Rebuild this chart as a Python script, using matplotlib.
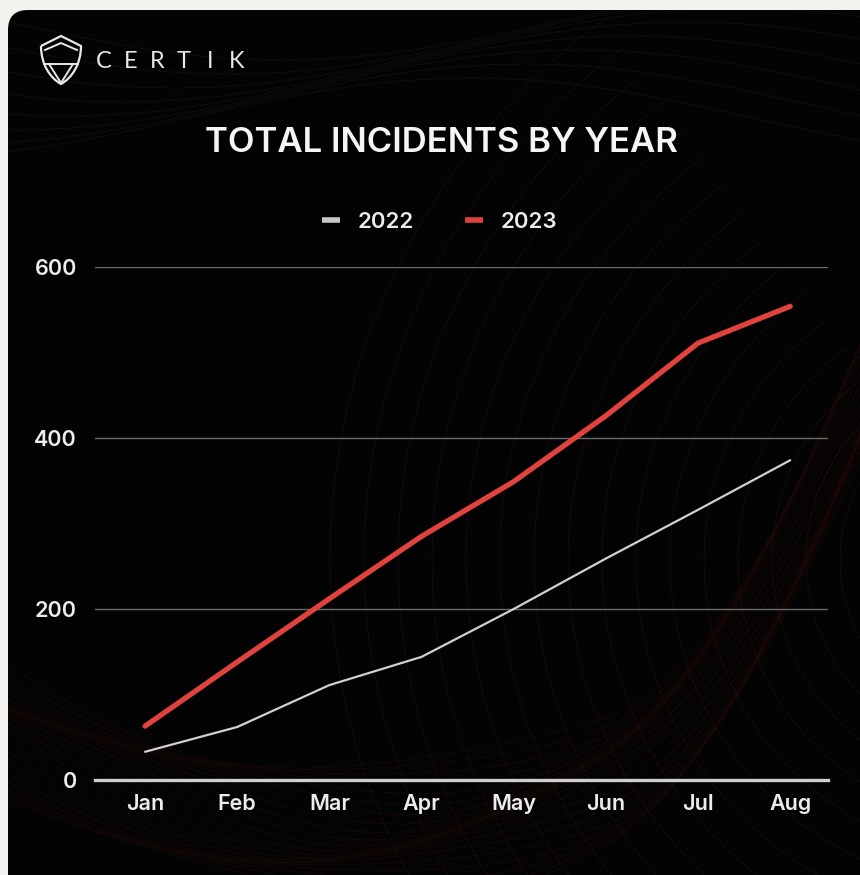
import numpy as np
import matplotlib.pyplot as plt
from matplotlib.patches import FancyBboxPatch, PathPatch
from matplotlib.path import Path
from matplotlib.lines import Line2D

# ------------------------------------------------------------------
# data
# ------------------------------------------------------------------
months = ["Jan", "Feb", "Mar", "Apr", "May", "Jun", "Jul", "Aug"]
incidents_2022 = [33, 62, 111, 144, 200, 259, 316, 374]
incidents_2023 = [63, 138, 212, 285, 349, 426, 511, 554]
y_ticks = [0, 200, 400, 600]

W, H = 860, 875
BG = "#f2f2ef"
CARD = "#030303"
RED = "#e0423e"
GRAY = "#d0d0d0"
TEXT = "#ececec"

plt.rcParams["font.family"] = ["Inter", "DejaVu Sans"]


def fx(px):
    return px / W


def fy(py):
    return 1 - py / H


fig = plt.figure(figsize=(W / 100, H / 100), dpi=100)
fig.patch.set_facecolor(BG)

# full-figure layer in pixel units (y down) for the card, waves and logo
bg = fig.add_axes([0, 0, 1, 1], zorder=0)
bg.set_xlim(0, W)
bg.set_ylim(H, 0)
bg.axis("off")
bg.patch.set_alpha(0)

# black card with rounded top-left corner
card = FancyBboxPatch((8, 10), W + 40, H + 40,
                      boxstyle="round,pad=0,rounding_size=20",
                      facecolor=CARD, edgecolor="none", zorder=0)
bg.add_patch(card)

# faint background waves, clipped to the card
waves = []
for k in range(16):
    # arcs around the right side
    r = 160 + k * 34
    ang = np.linspace(np.pi * 0.55, np.pi * 1.3, 200)
    waves += bg.plot(1000 + r * np.cos(ang), 560 + r * np.sin(ang),
                     color="#4a1e1a", lw=0.6, alpha=0.3)
xs = np.linspace(8, W, 400)
band = (730 + 110 * np.sin(np.pi * (xs - 8) / 700)
        - 250 * np.clip((xs - 600) / 260, 0, None) ** 2)
for k in range(22):
    # reddish band sweeping along the bottom and up the right edge
    ys = band + (k - 11) * 6 + 12 * np.sin(xs / 90 + k * 0.4)
    waves += bg.plot(xs, ys, color="#5a1610", lw=0.6, alpha=0.22)
for k in range(8):
    # soft swirls behind the title
    ys = 20 + k * 14 + 40 * np.sin(xs / 180 + k * 0.3)
    waves += bg.plot(xs, ys, color="#2e2e2e", lw=0.5, alpha=0.35)
for ln in waves:
    ln.set_clip_path(card)

# logo: shield outline and spaced wordmark
LOGO = "#e8e8e8"
shield = Path(
    [(41, 46), (61, 36), (81, 46),
     (81, 64), (72, 78), (61, 84),
     (50, 78), (41, 64), (41, 46)],
    [Path.MOVETO, Path.LINETO, Path.LINETO,
     Path.CURVE4, Path.CURVE4, Path.CURVE4,
     Path.CURVE4, Path.CURVE4, Path.CURVE4])
bg.add_patch(PathPatch(shield, facecolor="none", edgecolor=LOGO, lw=1.6, zorder=3))
bg.plot([45, 61, 77], [50, 43, 50], color=LOGO, lw=1.4, zorder=3)
bg.plot([44, 78], [64, 64], color=LOGO, lw=1.4, zorder=3)
bg.plot([49, 61, 73], [64, 83, 64], color=LOGO, lw=1.4, zorder=3)
for i, ch in enumerate("CERTIK"):
    bg.text(104 + i * 26.5, 62, ch, ha="center", va="center",
            fontsize=17, color=LOGO, family=["Lato", "DejaVu Sans"],
            fontweight="normal", zorder=3)

fig.text(fx(441), fy(143), "TOTAL INCIDENTS BY YEAR", ha="center", va="center",
         fontsize=25, fontweight="semibold", color="#f5f5f5")

# ------------------------------------------------------------------
# chart
# ------------------------------------------------------------------
ax = fig.add_axes([fx(95), fy(780), fx(828) - fx(95), fy(267) - fy(780)], zorder=2)
ax.patch.set_alpha(0)
x = np.arange(len(months))
ax.set_xlim(-0.543, 7.41)
ax.set_ylim(0, 600)

for v in y_ticks[1:]:
    ax.axhline(v, color="#6b6b6b", lw=1.0, zorder=1)
ax.axhline(0, color="#cfcfcf", lw=2.4, zorder=1, clip_on=False)

ax.plot(x, incidents_2022, color=GRAY, lw=1.6, solid_capstyle="round", zorder=3)
ax.plot(x, incidents_2023, color=RED, lw=3.8, solid_capstyle="round",
        solid_joinstyle="round", zorder=4)

ax.set_xticks(x)
ax.set_xticklabels(months)
ax.set_yticks(y_ticks)
ax.tick_params(length=0, colors=TEXT, labelsize=15.5)
ax.tick_params(axis="x", pad=10)
ax.tick_params(axis="y", pad=13)
for lbl in ax.get_xticklabels() + ax.get_yticklabels():
    lbl.set_fontweight("semibold")
for s in ax.spines.values():
    s.set_visible(False)

handles = [Line2D([], [], color="#c8c8c8", lw=4, solid_capstyle="butt"),
           Line2D([], [], color=RED, lw=4, solid_capstyle="butt")]
leg = fig.legend(handles, ["2022", "2023"], loc="center",
                 bbox_to_anchor=(fx(440), fy(222)), ncol=2, frameon=False,
                 fontsize=16, handlelength=0.8, handletextpad=0.8,
                 columnspacing=2.3)
for txt in leg.get_texts():
    txt.set_color(TEXT)
    txt.set_fontweight("semibold")

fig.savefig("out.png", dpi=100, facecolor=BG)
